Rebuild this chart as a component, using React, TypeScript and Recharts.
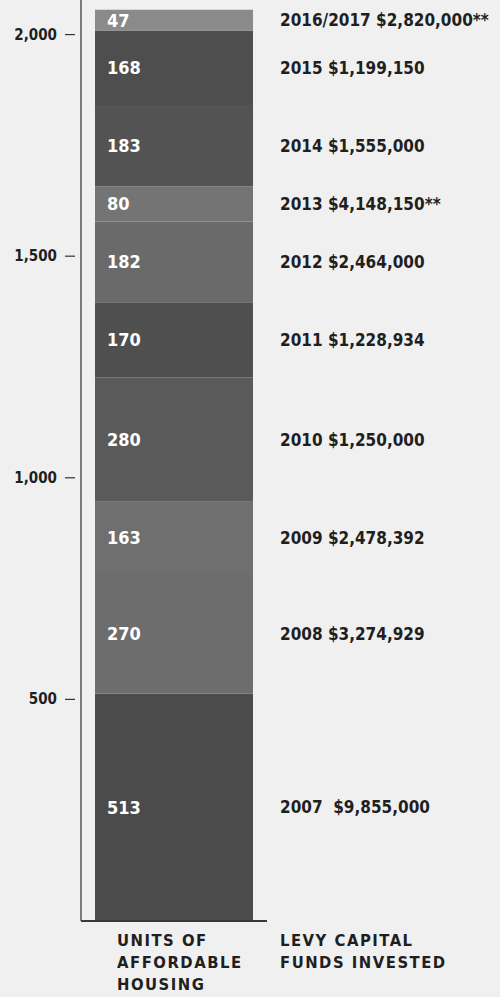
import { BarChart, Bar, XAxis, YAxis, LabelList } from 'recharts'

const years = ['2007', '2008', '2009', '2010', '2011', '2012', '2013', '2014', '2015', '2016/2017']
const units = [513, 270, 163, 280, 170, 182, 80, 183, 168, 47]
const funds = ['$9,855,000', '$3,274,929', '$2,478,392', '$1,250,000', '$1,228,934', '$2,464,000', '$4,148,150**', '$1,555,000', '$1,199,150', '$2,820,000**']
const yTicks = [500, 1000, 1500, 2000]

const colors = ['#4b4b4b', '#6d6d6d', '#6f6f6f', '#5a5a5a', '#4f4f4f', '#6a6a6a', '#747474', '#535353', '#4e4e4e', '#8a8a8a']
const FONT = "'DejaVu Sans Condensed', 'Liberation Sans Narrow', 'DejaVu Sans', sans-serif"
const BG = '#f0f0f0'
const INK = '#1f1f1f'

const row: Record<string, string | number> = { name: 'units' }
years.forEach((y, i) => { row['y' + i] = units[i] })
const data = [row]

// eslint-disable-next-line @typescript-eslint/no-explicit-any
function AxisTick({ x, y, payload }: any) {
  return (
    <g>
      <line x1={x - 16} x2={x - 6} y1={y} y2={y} stroke="#333" strokeWidth={1.2} />
      <text x={x - 24} y={y} textAnchor="end" dominantBaseline="central" fill={INK}
        style={{ fontFamily: FONT, fontSize: 15, fontWeight: 600 }}>
        {payload.value.toLocaleString('en-US')}
      </text>
    </g>
  )
}

function fundLabel(i: number) {
  // eslint-disable-next-line @typescript-eslint/no-explicit-any
  return (props: any) => {
    const { x, y, width, height } = props
    const gap = i === 0 ? '  ' : ' '
    return (
      <text x={Number(x) + Number(width) + 27} y={Number(y) + Number(height) / 2} dominantBaseline="central"
        fill={INK} style={{ fontFamily: FONT, fontSize: 17, fontWeight: 700, whiteSpace: 'pre' }}>
        {years[i] + gap + funds[i]}
      </text>
    )
  }
}

const caption = { position: 'absolute' as const, fontFamily: FONT, fontSize: 16.5, fontWeight: 700, letterSpacing: 1.5, lineHeight: '22px', color: INK }

export default function App() {
  return (
    <div style={{ position: 'absolute', left: 0, top: 0, width: 500, height: 997, background: BG }}>
      <BarChart width={500} height={997} data={data} barCategoryGap={14}
        margin={{ top: 0, right: 233, left: 0, bottom: 75 }}>
        <XAxis dataKey="name" tick={false} height={1} axisLine={{ stroke: '#3a3a3a', strokeWidth: 2 }} tickLine={false} />
        <YAxis width={81} domain={[0, 2078]} ticks={yTicks} tickSize={0} tickMargin={0} tickLine={false}
          axisLine={{ stroke: '#555', strokeWidth: 1.5 }} tick={<AxisTick />} />
        {units.map((_, i) => (
          <Bar key={i} dataKey={'y' + i} stackId="a" fill={colors[i]} isAnimationActive={false}>
            <LabelList dataKey={'y' + i} position="insideLeft" offset={12} fill="#fff"
              style={{ fontFamily: FONT, fontSize: 18, fontWeight: 700 }} />
            <LabelList dataKey={'y' + i} content={fundLabel(i)} />
          </Bar>
        ))}
      </BarChart>
      <div style={{ ...caption, left: 117, top: 930 }}>UNITS OF<br />AFFORDABLE<br />HOUSING</div>
      <div style={{ ...caption, left: 280, top: 930 }}>LEVY CAPITAL<br />FUNDS INVESTED</div>
    </div>
  )
}
